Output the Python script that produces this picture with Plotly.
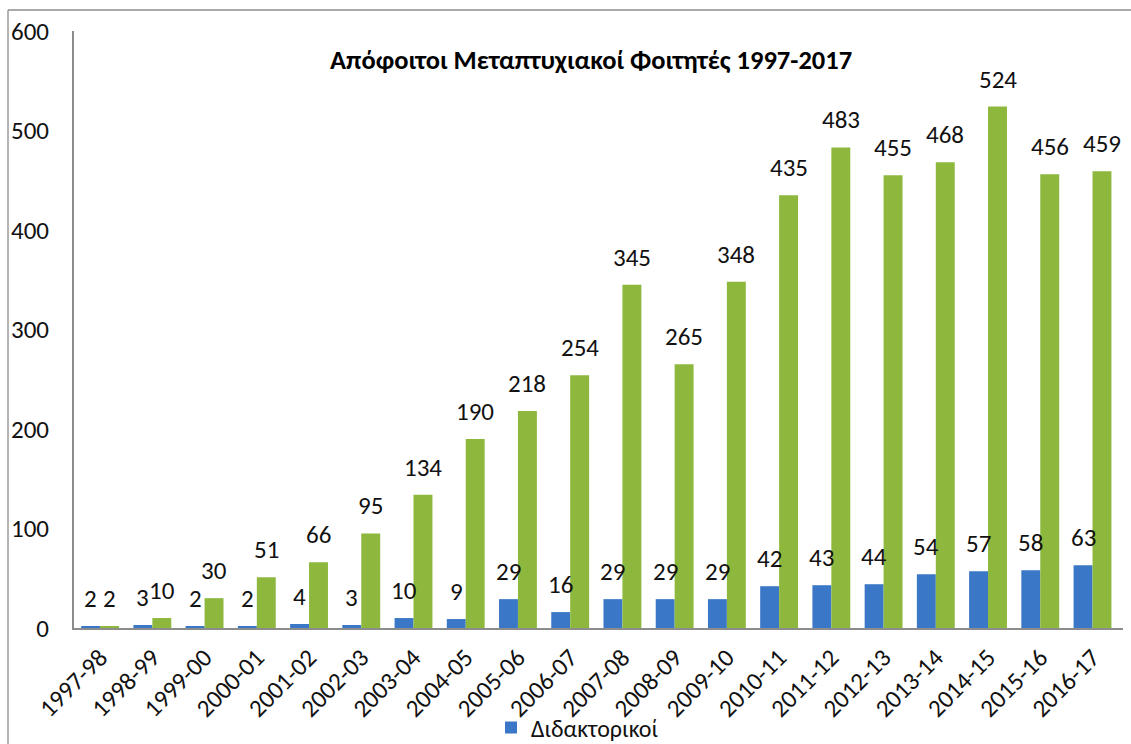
import plotly.graph_objects as go

years = ["1997-98", "1998-99", "1999-00", "2000-01", "2001-02", "2002-03", "2003-04",
         "2004-05", "2005-06", "2006-07", "2007-08", "2008-09", "2009-10", "2010-11",
         "2011-12", "2012-13", "2013-14", "2014-15", "2015-16", "2016-17"]
doctoral = [2, 3, 2, 2, 4, 3, 10, 9, 29, 16, 29, 29, 29, 42, 43, 44, 54, 57, 58, 63]
masters = [2, 10, 30, 51, 66, 95, 134, 190, 218, 254, 345, 265, 348, 435, 483, 455, 468, 524, 456, 459]
y_ticks = [0, 100, 200, 300, 400, 500, 600]

FONT = "Carlito, Calibri, 'Noto Sans', sans-serif"
FS = 25
BLUE = "#3a77c6"
GREEN = "#8db83d"

fig = go.Figure()
fig.add_trace(go.Bar(x=years, y=doctoral, name="Διδακτορικοί",
                     marker=dict(color=BLUE, line=dict(width=0))))
fig.add_trace(go.Bar(x=years, y=masters, name="Μεταπτυχιακοί", showlegend=False,
                     marker=dict(color=GREEN, line=dict(width=0))))

annotations = []
for cat, d, m in zip(years, doctoral, masters):
    annotations.append(dict(x=cat, y=d, xref="x", yref="y", text=str(d), showarrow=False,
                            xshift=-9.5, yshift=10, yanchor="bottom",
                            font=dict(family=FONT, size=FS, color="#111")))
    annotations.append(dict(x=cat, y=m, xref="x", yref="y", text=str(m), showarrow=False,
                            xshift=9.5, yshift=10, yanchor="bottom",
                            font=dict(family=FONT, size=FS, color="#111")))
annotations.append(dict(x=(591 - 74) / 1049, y=1.0 - (60 - 31) / 597, xref="paper", yref="paper",
                        text="<b>Απόφοιτοι Μεταπτυχιακοί Φοιτητές 1997-2017</b>",
                        showarrow=False, xanchor="center", yanchor="middle",
                        font=dict(family=FONT, size=26.5, color="#000")))

W_PLOT = 1131 - 74 - 8
H_PLOT = 744 - 31 - 116
shapes = [
    dict(type="line", xref="paper", yref="paper", x0=(8 - 74) / W_PLOT, x1=(1131 - 74) / W_PLOT,
         y0=1 + (31 - 10) / H_PLOT, y1=1 + (31 - 10) / H_PLOT, line=dict(color="#8c8c8c", width=1.3)),
    dict(type="line", xref="paper", yref="paper", x0=(8 - 74) / W_PLOT, x1=(8 - 74) / W_PLOT,
         y0=1 + (31 - 10) / H_PLOT, y1=-(744 - 628) / H_PLOT, line=dict(color="#8c8c8c", width=1.3)),
]

fig.update_layout(
    width=1131, height=744,
    margin=dict(l=74, r=8, t=31, b=116, autoexpand=False),
    paper_bgcolor="white", plot_bgcolor="white",
    barmode="group", bargap=0.275, bargroupgap=0,
    font=dict(family=FONT, size=FS, color="#111"),
    annotations=annotations, shapes=shapes,
    showlegend=True,
    legend=dict(x=(491 - 74) / W_PLOT, y=-(728 - 628) / H_PLOT, xanchor="left", yanchor="middle",
                orientation="h", font=dict(family=FONT, size=24, color="#111"),
                bgcolor="rgba(0,0,0,0)", itemwidth=30, tracegroupgap=0),
)
fig.update_xaxes(type="category", showline=True, linecolor="#8c8c8c", linewidth=2, tickangle=-45,
                 ticks="", showgrid=False, tickfont=dict(family=FONT, size=25, color="#111"),
                 ticklabelstandoff=3, automargin=False)
fig.update_yaxes(range=[0, 600], tickvals=y_ticks, ticktext=[str(v) for v in y_ticks],
                 showline=True, linecolor="#8c8c8c", linewidth=2, ticks="", showgrid=False,
                 zeroline=False, ticklabelstandoff=18, automargin=False,
                 tickfont=dict(family=FONT, size=FS, color="#111"))

fig.write_html("out.html", config={"displayModeBar": False},
               post_script="document.body.style.margin='0';document.body.style.overflow='hidden';")
